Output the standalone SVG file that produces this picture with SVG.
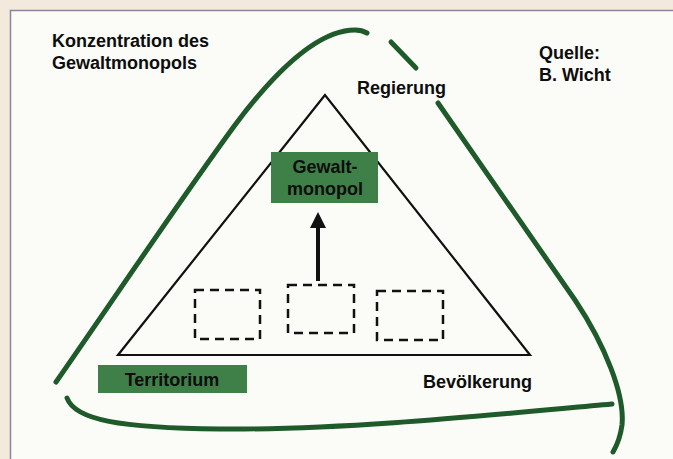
<svg xmlns="http://www.w3.org/2000/svg" width="673" height="459" viewBox="0 0 673 459">
<defs>
<style>
.t{font-family:"Liberation Sans",Arial,sans-serif;font-weight:bold;font-size:18px;fill:#0d0d0d}
.g{fill:none;stroke:#1f5a2a;stroke-width:5;stroke-linecap:round;stroke-linejoin:round}
.box{fill:#3e8048}
.dash{fill:none;stroke:#111;stroke-width:2.5;stroke-dasharray:9 6}
</style>
<marker id="ah" viewBox="0 0 16 16" refX="1" refY="8" markerWidth="16" markerHeight="16" markerUnits="userSpaceOnUse" orient="auto">
<path d="M0,0 L16,8 L0,16 Z" fill="#111"/>
</marker>
</defs>
<rect x="0" y="0" width="673" height="459" fill="#f3e9dc"/>
<rect x="10.5" y="10.5" width="670" height="460" fill="#fbfbf7" stroke="#8a879c" stroke-width="1.5"/>

<g id="curves">
<path class="g" d="M56,382 C120,290 180,200 235,125 C280,65 320,30 355,30 Q362,30 367,33"/>
<path class="g" d="M391,42 L416,68"/>
<path class="g" d="M438,103 L575,300 C605,345 625,395 622,425 Q620,440 613,452"/>
<path class="g" d="M67,398 C75,420 120,428 220,429 C350,430 500,414 612,404"/>
</g>

<g id="triangle">
<path d="M325,95 L118,355 L530,355 Z" fill="none" stroke="#111" stroke-width="2.2" stroke-linejoin="miter"/>
</g>

<g id="connectors">
<line x1="318" y1="281" x2="318" y2="227" stroke="#111" stroke-width="4" marker-end="url(#ah)"/>
</g>

<g id="gewaltmonopol">
<rect class="box" x="271" y="152" width="107" height="51"/>
<text class="t" x="325" y="173" text-anchor="middle">Gewalt-</text>
<text class="t" x="325" y="195" text-anchor="middle">monopol</text>
</g>

<g id="box1"><rect class="dash" x="195" y="290" width="65" height="49"/></g>
<g id="box2"><rect class="dash" x="288" y="285" width="66" height="48"/></g>
<g id="box3"><rect class="dash" x="377" y="291" width="66" height="49"/></g>

<g id="territorium">
<rect class="box" x="98" y="365" width="149" height="28"/>
<text class="t" x="172" y="386" text-anchor="middle">Territorium</text>
</g>

<g id="regierung"><text class="t" x="357" y="94">Regierung</text></g>
<g id="bevoelkerung"><text class="t" x="423" y="388">Bevölkerung</text></g>

<g id="title">
<text class="t" x="52" y="47">Konzentration des</text>
<text class="t" x="52" y="69">Gewaltmonopols</text>
</g>
<g id="quelle">
<text class="t" x="539" y="59">Quelle:</text>
<text class="t" x="539" y="81">B. Wicht</text>
</g>
</svg>
